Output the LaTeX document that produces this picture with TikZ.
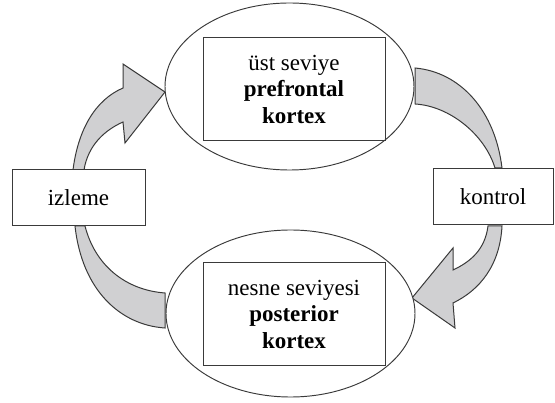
\documentclass[tikz,border=0pt]{standalone}
\usepackage{fontspec}
\setmainfont{Liberation Serif}
\usetikzlibrary{shapes.geometric}
\definecolor{linec}{HTML}{3A3A3A}
\definecolor{arrowfill}{HTML}{D0D0D2}
\tikzset{
  oval/.style={ellipse, draw=linec, line width=0.95pt, minimum width=249pt, minimum height=167pt, inner sep=0pt},
  inbox/.style={rectangle, draw=linec, line width=1pt, minimum width=182pt, minimum height=103pt, inner sep=0pt, align=center, font=\fontsize{23}{26.5}\selectfont},
  sidebox/.style={rectangle, draw=linec, line width=1pt, minimum height=56pt, inner sep=0pt, font=\fontsize{23}{26.5}\selectfont},
  blockarrow/.style={draw=linec, line width=1pt, fill=arrowfill, line join=miter}
}
\begin{document}
\begin{tikzpicture}[x=1pt,y=-1pt]
\useasboundingbox (0,0) rectangle (555,403);
% block arrows (drawn first so boxes sit on top)
\draw[blockarrow] (73,170) .. controls (78,130) and (95,100) .. (123,88)
  -- (123,64) -- (165,92) -- (125,143) -- (123,122)
  .. controls (105,130) and (88,145) .. (84,170) -- cycle;
\draw[blockarrow] (415,68) -- (415,104) .. controls (450,106) and (485,135) .. (495,168)
  -- (502,168) .. controls (495,110) and (460,72) .. (415,68) -- cycle;
\draw[blockarrow] (75,226) .. controls (82,290) and (120,325) .. (165,328)
  -- (165,293) .. controls (125,290) and (95,265) .. (85,226) -- cycle;
\draw[blockarrow] (502,226) .. controls (500,265) and (480,290) .. (453,303)
  -- (455,328) -- (412,298) -- (453,248) -- (453,270)
  .. controls (470,262) and (485,250) .. (488,226) -- cycle;
% nodes
\node[oval, fill=white] (topE) at (289.5,86.5) {};
\node[inbox] (topR) at (294,89.5) {üst seviye\\\textbf{prefrontal}\\\textbf{kortex}};
\node[oval, fill=white] (botE) at (290.5,313.5) {};
\node[inbox] (botR) at (294,314.5) {nesne seviyesi\\\textbf{posterior}\\\textbf{kortex}};
\node[sidebox, fill=white, minimum width=133pt] (izl) at (78.5,197.5) {izleme};
\node[sidebox, fill=white, minimum width=120pt] (kon) at (493,197) {kontrol};
\end{tikzpicture}
\end{document}
